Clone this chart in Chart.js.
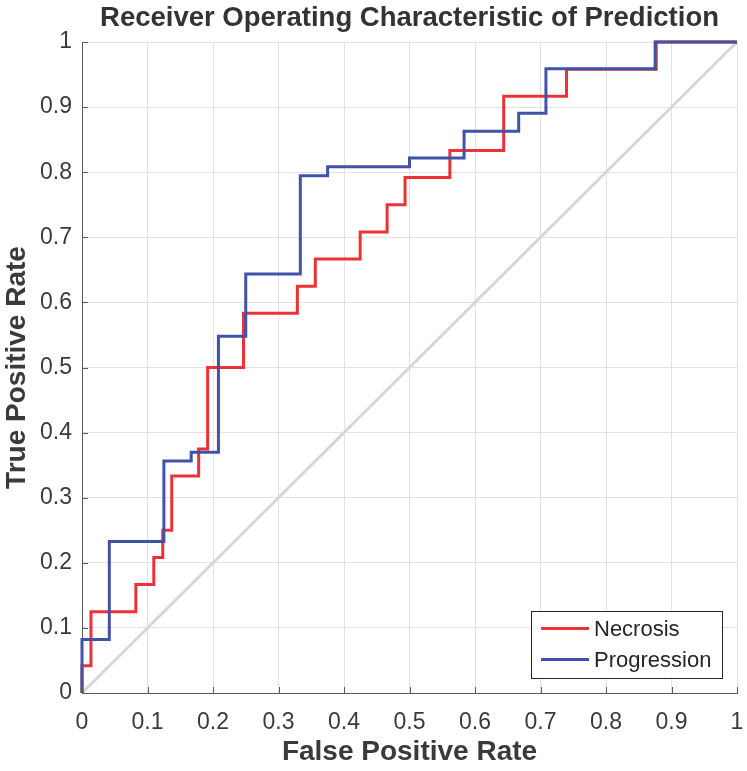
<!DOCTYPE html>
<html><head><meta charset="utf-8">
<script src="https://cdn.jsdelivr.net/npm/chart.js@4/dist/chart.umd.min.js"></script>
<style>html,body{margin:0;padding:0;background:#fff;}#wrap{width:747px;height:771px;}</style>
</head><body><div id="wrap"><canvas id="c" width="747" height="771"></canvas></div>
<script>
// ---- data ----
const chartTitle = 'Receiver Operating Characteristic of Prediction';
const xTitle = 'False Positive Rate';
const yTitle = 'True Positive Rate';
const tickLabels = ['0','0.1','0.2','0.3','0.4','0.5','0.6','0.7','0.8','0.9','1'];
const seriesNames = ['Necrosis','Progression'];
const necrosisFPR = [0, 0, 0.0137, 0.0822, 0.1096, 0.1233, 0.1370, 0.1781, 0.1918, 0.2466, 0.3288, 0.3562, 0.4247, 0.4658, 0.4932, 0.5616, 0.6438, 0.7397, 0.8767, 1];
const necrosisTPR = [0, 0.0417, 0.125, 0.1667, 0.2083, 0.25, 0.3333, 0.375, 0.5, 0.5833, 0.625, 0.6667, 0.7083, 0.75, 0.7917, 0.8333, 0.9167, 0.9583, 1, 1];
const progressionFPR = [0, 0, 0.0417, 0.125, 0.1667, 0.2083, 0.25, 0.3333, 0.375, 0.5, 0.5833, 0.6667, 0.7083, 0.875, 1];
const progressionTPR = [0, 0.0822, 0.2329, 0.3562, 0.3699, 0.5479, 0.6438, 0.7945, 0.8082, 0.8219, 0.8630, 0.8904, 0.9589, 1, 1];
const chanceX = [0, 1];
const chanceY = [0, 1];

const FONT = "'Liberation Sans', Arial, Helvetica, sans-serif";
const TEXT = '#3a3a3a';
const AXIS = '#5a5a5a';
const GRID = '#e2e2e2';
const RED = '#ec3237';
const BLUE = '#4153a6';

const pts = (xs, ys) => xs.map((x, i) => ({x, y: ys[i]}));
const fmt = v => tickLabels[Math.round(v * 10)] ?? '';

const titlePlugin = {
  id: 'topTitle',
  afterDraw(chart) {
    const {ctx, chartArea: a} = chart;
    ctx.save();
    ctx.font = `bold 27.5px ${FONT}`;
    ctx.fillStyle = '#333333';
    ctx.textAlign = 'center';
    ctx.textBaseline = 'middle';
    ctx.fillText(chartTitle, (a.left + a.right) / 2, 18.5);
    ctx.restore();
  }
};

const inwardTicks = {
  id: 'inwardTicks',
  afterDatasetsDraw(chart) {
    const {ctx, chartArea: a, scales: {x, y}} = chart;
    ctx.save();
    ctx.strokeStyle = AXIS; ctx.lineWidth = 1;
    x.ticks.forEach(t => {
      const px = Math.round(x.getPixelForValue(t.value)) + 0.5;
      ctx.beginPath(); ctx.moveTo(px, a.bottom); ctx.lineTo(px, a.bottom - 6); ctx.stroke();
    });
    y.ticks.forEach(t => {
      const py = Math.round(y.getPixelForValue(t.value)) + 0.5;
      ctx.beginPath(); ctx.moveTo(a.left, py); ctx.lineTo(a.left + 6, py); ctx.stroke();
    });
    ctx.restore();
  }
};

const boxLegend = {
  id: 'boxLegend',
  afterDraw(chart) {
    const {ctx, chartArea: a} = chart;
    const w = 191, h = 67;
    const left = Math.round(a.right - 15 - w), top = Math.round(a.bottom - 15 - h);
    ctx.save();
    ctx.fillStyle = '#fff'; ctx.fillRect(left, top, w, h);
    ctx.strokeStyle = '#262626'; ctx.lineWidth = 1; ctx.strokeRect(left + 0.5, top + 0.5, w, h);
    ctx.font = `22px ${FONT}`; ctx.textBaseline = 'middle'; ctx.textAlign = 'left';
    chart.data.datasets.filter(d => d.inLegend).forEach((d, i) => {
      const cy = top + 17.5 + i * 31;
      ctx.strokeStyle = d.borderColor; ctx.lineWidth = 3;
      ctx.beginPath(); ctx.moveTo(left + 10, cy); ctx.lineTo(left + 58, cy); ctx.stroke();
      ctx.fillStyle = '#262626';
      ctx.fillText(d.label, left + 63, cy + 1);
    });
    ctx.restore();
  }
};

const axisCommon = (title, pad, titlePad, fit) => ({
  type: 'linear', min: 0, max: 1,
  ticks: {stepSize: 0.1, padding: pad, color: TEXT, font: {size: 23, family: FONT}, callback: v => fmt(v), maxRotation: 0, autoSkip: false},
  grid: {color: GRID, lineWidth: 1, drawTicks: false},
  border: {display: true, color: AXIS, width: 1},
  title: {display: true, text: title, color: TEXT, font: {size: 28, weight: 'bold', family: FONT}, padding: titlePad},
  afterFit: fit
});

new Chart(document.getElementById('c'), {
  type: 'scatter',
  data: {
    datasets: [
      {label: seriesNames[0], inLegend: true, data: pts(necrosisFPR, necrosisTPR), showLine: true, stepped: 'before', borderColor: RED, borderWidth: 3, pointRadius: 0, fill: false, clip: false, order: 1},
      {label: seriesNames[1], inLegend: true, data: pts(progressionFPR, progressionTPR), showLine: true, stepped: 'before', borderColor: BLUE, borderWidth: 3, pointRadius: 0, fill: false, clip: false, order: 0},
      {label: 'chance', inLegend: false, data: pts(chanceX, chanceY), showLine: true, borderColor: '#d6d6d6', borderWidth: 3, pointRadius: 0, fill: false, order: 2}
    ]
  },
  options: {
    responsive: false, animation: false, devicePixelRatio: 1,
    layout: {padding: {top: 42, right: 10, bottom: 0, left: 0}},
    plugins: {legend: {display: false}, title: {display: false}, tooltip: {enabled: false}},
    scales: {
      x: axisCommon(xTitle, 16, {top: 0, bottom: 2}, s => { s.height = 78; s.paddingLeft = 0; s.paddingRight = 0; }),
      y: axisCommon(yTitle, 10, {top: 0, bottom: 0}, s => { s.width = 82; s.paddingTop = 0; s.paddingBottom = 0; })
    }
  },
  plugins: [titlePlugin, inwardTicks, boxLegend]
});
</script>
</body></html>
